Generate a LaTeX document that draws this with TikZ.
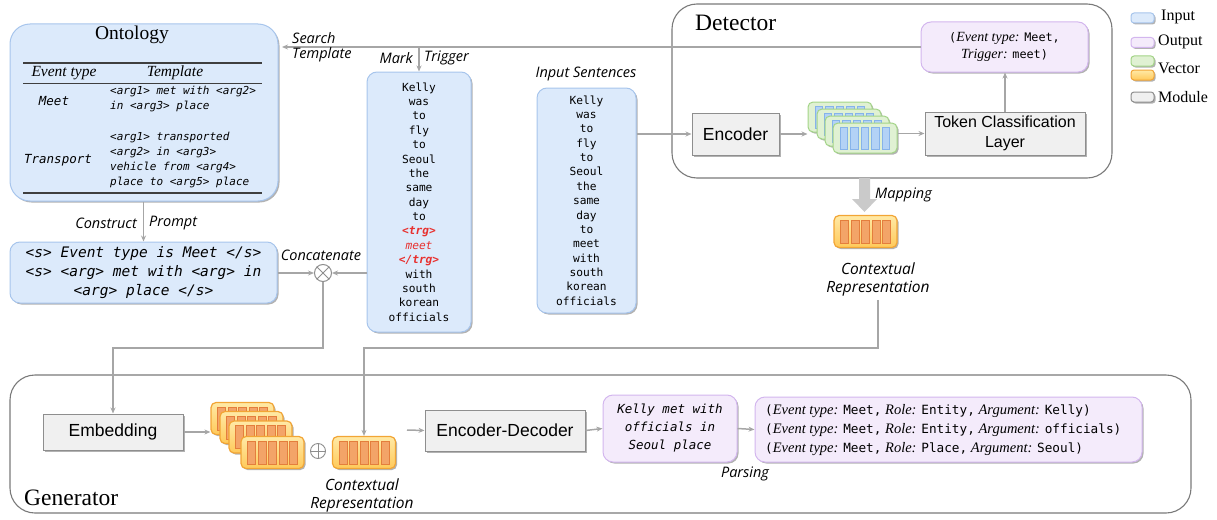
\documentclass[tikz,border=0pt]{standalone}
\usepackage{fontspec}
\setmainfont{Liberation Serif}
\newfontfamily\sansf{Liberation Sans}
\newfontfamily\labf{Open Sans}
\newfontfamily\monof{DejaVu Sans Mono}[ItalicFont={DejaVu Sans Mono Oblique},BoldFont={DejaVu Sans Mono Bold},BoldItalicFont={DejaVu Sans Mono Bold Oblique}]
\usetikzlibrary{arrows.meta,shadows,calc}

\definecolor{inblue}{HTML}{DCEAFB}
\definecolor{inblueb}{HTML}{A7C5EC}
\definecolor{outpur}{HTML}{F4EBFB}
\definecolor{outpurb}{HTML}{D3B6EE}
\definecolor{modg}{HTML}{F0F0F0}
\definecolor{modgb}{HTML}{8E8E8E}
\definecolor{connc}{HTML}{A6A6A6}
\definecolor{frameg}{HTML}{7A7A7A}
\definecolor{trgred}{HTML}{E8302E}
\definecolor{gfill}{HTML}{E0F1D3}
\definecolor{gbord}{HTML}{A3D487}
\definecolor{bbar}{HTML}{B3D2F6}
\definecolor{bbarb}{HTML}{86B3EA}
\definecolor{otop}{HTML}{FFE9A6}
\definecolor{obot}{HTML}{FFC95A}
\definecolor{obord}{HTML}{F2A535}
\definecolor{obar}{HTML}{F3A468}
\definecolor{obarb}{HTML}{E47E3C}
\definecolor{rulec}{HTML}{3F3F3F}
\definecolor{blockc}{HTML}{CACACA}

% monospace pieces inside serif text
\newcommand\mt[1]{{\monof\upshape\fontsize{11.8}{17}\selectfont #1}}
\newcommand\mr[1]{{\monof\upshape\fontsize{12.7}{19}\selectfont #1}}

% a vector card: name, x, y, kind (g = green/blue, o = orange)
\newcommand\veccard[4]{%
  \node[#4card] (#1) at (#2,#3) {};
  \foreach \k [count=\i] in {-2,...,2}
    \node[#4bar] (#1b\i) at ($(#1.center)+(\k*10.5,0)$) {};
}

\begin{document}
\begin{tikzpicture}[x=1pt,y=-1pt,
  sh/.style={drop shadow={shadow xshift=1.5pt,shadow yshift=-1.5pt,opacity=0.3,fill=black}},
  inbox/.style={draw=inblueb,fill=inblue,line width=1pt,rounded corners=10pt,sh,inner sep=0pt},
  outbox/.style={draw=outpurb,fill=outpur,line width=1pt,rounded corners=10pt,sh,inner sep=0pt},
  modbox/.style={draw=modgb,fill=modg,line width=1pt,sh,inner sep=0pt,
    font=\sansf\fontsize{17.5}{20}\selectfont},
  framebox/.style={draw=frameg,line width=1.1pt,rounded corners=25pt},
  conn/.style={draw=connc,line width=1.5pt},
  arr/.style={conn,-{Stealth[length=6pt,width=5pt]}},
  lab/.style={font=\labf\itshape\fontsize{14.5}{18}\selectfont,inner sep=0pt},
  ctxlab/.style={font=\labf\itshape\fontsize{15.5}{18}\selectfont,inner sep=0pt,align=center},
  rmtitle/.style={font=\fontsize{23.5}{26}\selectfont,inner sep=0pt},
  gcard/.style={draw=gbord,fill=gfill,rounded corners=5pt,line width=1pt,
    minimum width=64pt,minimum height=30pt,inner sep=0pt,sh},
  gbar/.style={draw=bbarb,fill=bbar,line width=0.6pt,minimum width=7.5pt,
    minimum height=22pt,inner sep=0pt},
  ocard/.style={draw=obord,top color=otop,bottom color=obot,rounded corners=5pt,
    line width=1.2pt,minimum width=63pt,minimum height=32pt,inner sep=0pt,sh},
  obar/.style={draw=obarb,fill=obar,line width=0.6pt,minimum width=8pt,
    minimum height=23pt,inner sep=0pt},
  legbox/.style={rounded corners=3pt,line width=1pt,minimum width=23pt,
    minimum height=10pt,inner sep=0pt,sh},
  legtext/.style={font=\fontsize{16}{18}\selectfont,inner sep=0pt,anchor=west},
  tmpl/.style={font=\monof\itshape\fontsize{11}{15}\selectfont,align=left,
    inner sep=0pt,anchor=west},
]
\useasboundingbox (0,0) rectangle (1217,519);

% ---------- module frames ----------
\draw[framebox] (672,4) rectangle (1112,178);
\node[rmtitle,anchor=west] (dettitle) at (695,23) {Detector};
\draw[framebox] (10,375) rectangle (1191,513);
\node[rmtitle,anchor=west] (gentitle) at (24,498) {Generator};

% ---------- ontology ----------
\node[inbox,rounded corners=20pt,minimum width=268pt,minimum height=177pt] (ont) at (144,112.5) {};
\node[font=\fontsize{19.5}{22}\selectfont,inner sep=0pt] (onttitle) at (132,35) {Ontology};
\draw[rulec,line width=1.3pt] (23,63) -- (262,63);
\draw[rulec,line width=0.9pt] (23,83) -- (262,83);
\draw[rulec,line width=1.3pt] (23,193) -- (262,193);
\node[font=\itshape\fontsize{15.5}{18}\selectfont,inner sep=0pt] (hdtype) at (64,73) {Event type};
\node[font=\itshape\fontsize{15.5}{18}\selectfont,inner sep=0pt] (hdtmpl) at (175,73) {Template};
\node[font=\monof\itshape\fontsize{12.5}{15}\selectfont,inner sep=0pt] (meet) at (54,101) {Meet};
\node[tmpl] (meettmpl) at (110,99.5) {<arg1> met with <arg2>\\in <arg3> place};
\node[font=\monof\itshape\fontsize{12.5}{15}\selectfont,inner sep=0pt] (transp) at (58,160) {Transport};
\node[tmpl] (transtmpl) at (110,160.5) {<arg1> transported\\<arg2> in <arg3>\\vehicle from <arg4>\\place to <arg5> place};

% ---------- prompt ----------
\node[inbox,minimum width=267pt,minimum height=61pt,align=center,
  font=\monof\itshape\fontsize{14.5}{19}\selectfont] (prompt) at (143.5,272.5)
  {<s> Event type is Meet </s>\\<s> <arg> met with <arg> in\\<arg> place </s>};
\draw[arr] (ont.south -| prompt.north) -- (prompt.north);
\node[lab,anchor=east] (lconstruct) at (137,223) {Construct};
\node[lab,anchor=west] (lprompt) at (149,223) {Prompt};

% ---------- concatenation ----------
\node[circle,draw=modgb,fill=white,line width=1pt,minimum size=17pt,inner sep=0pt] (cat) at (323,273) {};
\draw[modgb,line width=1pt] (cat.north west) -- (cat.south east) (cat.north east) -- (cat.south west);
\node[lab] (lcat) at (321,255) {Concatenate};

% ---------- sentence with marked trigger ----------
\node[inbox,minimum width=104pt,minimum height=260pt,align=center,
  font=\monof\fontsize{11.2}{14.375}\selectfont] (mark) at (419,202)
  {Kelly\\was\\to\\fly\\to\\Seoul\\the\\same\\day\\to\\%
   {\color{trgred}\bfseries\itshape <trg>}\\{\color{trgred}\itshape meet}\\%
   {\color{trgred}\bfseries\itshape </trg>}\\with\\south\\korean\\officials};

% ---------- input sentence ----------
\node[inbox,minimum width=99pt,minimum height=225pt,align=center,
  font=\monof\fontsize{11.2}{14.36}\selectfont] (insent) at (586.5,200.5)
  {Kelly\\was\\to\\fly\\to\\Seoul\\the\\same\\day\\to\\meet\\with\\south\\korean\\officials};
\node[lab] (linput) at (586,74) {Input Sentences};

% ---------- detector ----------
\node[modbox,minimum width=87pt,minimum height=42pt] (enc) at (735.5,134) {Encoder};
\veccard{g1}{840}{117}{g}
\veccard{g2}{849}{124}{g}
\veccard{g3}{857}{131}{g}
\veccard{g4}{865}{138}{g}
\node[modbox,minimum width=160pt,minimum height=43pt,align=center,
  font=\sansf\fontsize{16}{20}\selectfont] (tcl) at (1005,133.5) {Token Classification\\Layer};
\node[outbox,minimum width=167pt,minimum height=50pt,align=center,
  font=\fontsize{14}{17}\selectfont] (outd) at (1004.5,47)
  {\mt{(}\textit{Event type:} \mt{Meet,}\\\textit{Trigger:} \mt{meet)}};

\draw[arr] (insent.east |- enc.west) -- (enc.west);
\draw[arr] (enc.east) -- (enc.east -| g1.west);
\draw[arr] (g4.east |- tcl.west) -- ++(3,0) -- (tcl.west);
\draw[arr] (tcl.north) -- (tcl.north |- outd.south);

% search template / mark trigger
\coordinate (stend) at (282,47);
\coordinate (mtop) at (mark.north |- stend);
\draw[arr] (outd.west) -- (stend);
\draw[arr] (mtop) -- (mark.north);
\node[lab,anchor=west] (lsearch) at (292,38) {Search};
\node[lab,anchor=west] (ltemplate) at (292,55) {Template};
\node[lab,anchor=east] (lmark) at (413,58) {Mark};
\node[lab,anchor=west] (ltrigger) at (424,58) {Trigger};

\draw[arr] (prompt.east |- cat.west) -- (cat.west);
\draw[arr] (mark.west |- cat.east) -- (cat.east);

% mapping to contextual representation
\fill[blockc] (859,178) -- (870,178) -- (870,199) -- (877,199) -- (864.5,212)
  -- (852,199) -- (859,199) -- cycle;
\node[lab,anchor=west] (lmap) at (875,195) {Mapping};
\veccard{ctx1}{865.5}{231.5}{o}
\node[ctxlab] (ctxlab1) at (878,279) {Contextual\\Representation};

% ---------- generator ----------
\node[modbox,minimum width=140pt,minimum height=36pt] (emb) at (113,432) {Embedding};
\veccard{o1}{242.5}{418.5}{o}
\veccard{o2}{251.5}{427.5}{o}
\veccard{o3}{260.5}{437}{o}
\veccard{o4}{272.5}{452.5}{o}
\node[circle,draw=modgb,fill=white,line width=0.9pt,minimum size=15pt,inner sep=0pt] (plus) at (318,451) {};
\draw[modgb,line width=0.9pt] (plus.north) -- (plus.south) (plus.west) -- (plus.east);
\veccard{ctx2}{364}{452.5}{o}
\node[ctxlab] (ctxlab2) at (362,495) {Contextual\\Representation};

\node[modbox,minimum width=160pt,minimum height=41pt] (encdec) at (505,430.5) {Encoder-Decoder};
\node[outbox,minimum width=134pt,minimum height=67pt,align=center,
  font=\monof\itshape\fontsize{12.5}{18}\selectfont] (gentext) at (670,428.5)
  {Kelly met with\\officials in\\Seoul place};
\node[outbox,minimum width=387pt,minimum height=65pt] (res) at (948.5,429.5) {};
\node[anchor=west,align=left,inner sep=0pt,font=\fontsize{14.5}{19}\selectfont] (restext) at (765,430)
  {\mr{(}\textit{Event type:} \mr{Meet,} \textit{Role:} \mr{Entity,} \textit{Argument:} \mr{Kelly)}\\
   \mr{(}\textit{Event type:} \mr{Meet,} \textit{Role:} \mr{Entity,} \textit{Argument:} \mr{officials)}\\
   \mr{(}\textit{Event type:} \mr{Meet,} \textit{Role:} \mr{Place,} \textit{Argument:} \mr{Seoul)}};
\node[lab] (lparse) at (745,474) {Parsing};

\coordinate (cstart) at (407,430);
\draw[arr] (emb.east) -- (emb.east -| o1.west);
\draw[arr] (cstart) -- (encdec.west);
\draw[arr] (encdec.east) -- (gentext.west);
\draw[arr] (gentext.east) -- (res.west);

% long connectors into the generator
\draw[arr] (cat.south) |- (emb.north |- 0,348) -- (emb.north);
\draw[arr] ([yshift=-4pt]ctxlab1.south) |- (ctx2.north |- 0,348) -- (ctx2.north);

% ---------- legend ----------
\node[legbox,draw=inblueb,fill=inblue] (legin) at (1142.5,18) {};
\node[legbox,draw=outpurb,fill=outpur] (legout) at (1142.5,42.5) {};
\node[legbox,draw=gbord,fill=gfill] (legvg) at (1142.5,61) {};
\node[legbox,draw=obord,top color=otop,bottom color=obot] (legvo) at (1142.5,75) {};
\node[legbox,draw=modgb,fill=modg] (legmod) at (1142.5,97) {};
\node[legtext] (legtin) at (1161,17) {Input};
\node[legtext] (legtout) at (1158,42) {Output};
\node[legtext] (legtvec) at (1158,68) {Vector};
\node[legtext] (legtmod) at (1158,97) {Module};
\end{tikzpicture}
\end{document}
